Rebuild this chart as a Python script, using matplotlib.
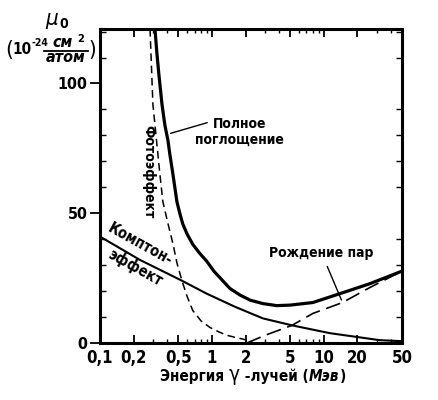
import matplotlib
matplotlib.use('Agg')
import matplotlib.pyplot as plt
from matplotlib import font_manager
from matplotlib.lines import Line2D
from matplotlib.ticker import FixedLocator, MultipleLocator, LogLocator, NullFormatter

# values (energy in MeV, mu in 1e-24 cm^2/atom)
total_e = [0.31, 0.322, 0.335, 0.358, 0.38, 0.405, 0.42, 0.45, 0.487, 0.52, 0.55, 0.6,
           0.675, 0.78, 0.9, 1.05, 1.25, 1.45, 1.78, 2.2, 2.85, 3.8, 5.0, 8.0, 13.9,
           25.6, 50]
total_mu = [121, 112, 104, 92, 84, 78, 73, 64.6, 54.4, 49.5, 45.8, 42,
            38, 34.5, 31.5, 27.5, 24, 21, 18.5, 16.5, 15.2, 14.4, 14.6, 15.6, 19,
            22.8, 27.7]

photo_e = [0.28, 0.297, 0.32, 0.343, 0.365, 0.405, 0.45, 0.486, 0.54, 0.6, 0.675,
           0.8, 0.96, 1.15, 1.36, 1.6, 1.9, 2.3]
photo_mu = [121, 92, 78, 65, 54.4, 46, 38, 31, 24, 18, 12.5,
            8.5, 6, 4.3, 3, 2.2, 1.5, 0.3]

compton_e = [0.1, 0.228, 0.54, 0.9, 1.6, 2.85, 5.2, 11.3, 31.5, 50]
compton_mu = [41, 32, 24, 19, 14, 9.5, 6.8, 3.8, 1.1, 0.7]

pair_e = [2.05, 3.0, 5.2, 8.0, 14.7, 25.6, 50]
pair_mu = [0, 3, 6.8, 11.4, 15.6, 21.3, 27.7]

xticks = [0.1, 0.2, 0.5, 1, 2, 5, 10, 20, 50]
xticklabels = ['0,1', '0,2', '0,5', '1', '2', '5', '10', '20', '50']
yticks = [0, 50, 100]


# a narrow font that has Cyrillic letters, if any is installed
def has_cyr(path):
    try:
        return 0x042D in font_manager.get_font(path).get_charmap()
    except Exception:
        return False


fam, stretch = 'DejaVu Sans', 'normal'
found = [(f.name, f.stretch) for f in font_manager.fontManager.ttflist
         if ('Narrow' in f.name or 'Condensed' in f.name or 'condensed' in str(f.stretch))
         and has_cyr(f.fname)]
for want in ['Liberation Sans Narrow', 'DejaVu Sans', 'Roboto Condensed']:
    hit = [c for c in found if c[0] == want]
    if hit:
        fam, stretch = hit[0]
        break
else:
    if found:
        fam, stretch = found[0]

plt.rcParams['font.family'] = [fam, 'DejaVu Sans']
plt.rcParams['font.stretch'] = stretch

lab = dict(fontweight='bold', color='black')

W, H = 439, 400
fig = plt.figure(figsize=(W / 100, H / 100), dpi=100)
ax = fig.add_axes([100 / W, 1 - 343 / H, 302 / W, 314 / H])
rend = fig.canvas.get_renderer()


def px(x, y):
    return x / W, 1 - y / H


def chain(parts, x0, base, center=False):
    # lay text pieces one after another on a common baseline (pixels)
    texts = []
    for s, dy, kw in parts:
        t = fig.text(0, 0, s, ha='left', va='baseline', **kw)
        texts.append((t, dy, t.get_window_extent(rend).width))
    total = sum(w for _, _, w in texts)
    x = x0 - total / 2 if center else x0
    for t, dy, w in texts:
        t.set_position(px(x, base + dy))
        x += w


ax.plot(total_e, total_mu, color='black', lw=2.3)
ax.plot(photo_e, photo_mu, color='black', lw=1.1, dashes=(5, 3))
ax.plot(compton_e, compton_mu, color='black', lw=1.5)
ax.plot(pair_e, pair_mu, color='black', lw=1.2, dashes=(9, 4))

ax.set_xscale('log')
ax.set_xlim(0.1, 50)
ax.set_ylim(0, 121)

ax.xaxis.set_major_locator(FixedLocator(xticks))
ax.set_xticklabels(xticklabels, fontsize=12, **lab)
ax.xaxis.set_minor_locator(LogLocator(base=10, subs=range(2, 10)))
ax.xaxis.set_minor_formatter(NullFormatter())
ax.yaxis.set_major_locator(FixedLocator(yticks))
ax.set_yticklabels([str(v) for v in yticks], fontsize=11.5, **lab)
ax.yaxis.set_minor_locator(MultipleLocator(10))

ax.tick_params(axis='x', which='major', direction='in', length=6, width=1.3,
               top=True, pad=4)
ax.tick_params(axis='x', which='minor', direction='in', length=3, width=1.0, top=True)
ax.tick_params(axis='y', which='major', direction='out', length=7, width=1.3, pad=2)
ax.tick_params(axis='y', which='minor', direction='in', length=4, width=1.0, right=True)
for s in ax.spines.values():
    s.set_linewidth(2.2)

# x axis caption: γ drawn larger, unit in italics
big = dict(fontsize=11, **lab)
chain([('Энергия ', 0, big),
       ('γ', 0, dict(fontsize=15, color='black')),
       (' -лучей (', 0, big),
       ('Мэв', 0, dict(style='italic', **big)),
       (')', 0, big)], 253, 381, center=True)

# y axis caption
fig.text(*px(52, 25), 'μ', fontsize=16, ha='center', va='baseline', style='italic')
fig.text(*px(64, 28), '0', fontsize=10, ha='center', va='baseline', **lab)
chain([('(', 2, dict(fontsize=16, color='black')),
       ('10', 0, dict(fontsize=11, **lab)),
       ('-24', -8, dict(fontsize=7.5, **lab))], 5, 54)
fig.text(*px(63, 47), 'см', fontsize=11.5, ha='center', va='baseline', style='italic', **lab)
fig.text(*px(77, 42), '2', fontsize=8, ha='left', va='baseline', **lab)
fig.add_artist(Line2D([44 / W, 88 / W], [1 - 51 / H, 1 - 51 / H], color='black', lw=1.3))
fig.text(*px(66, 62), 'атом', fontsize=11.5, ha='center', va='baseline', style='italic', **lab)
fig.text(*px(92, 56), ')', fontsize=16, ha='center', va='baseline')

# curve labels
ax.text(1.78, 81.4, 'Полное\nпоглощение', fontsize=10, linespacing=1.15, ha='center',
        multialignment='center', va='center', **lab)
ax.annotate('', xy=(0.405, 80.5), xytext=(0.96, 85.2),
            arrowprops=dict(arrowstyle='-', color='black', lw=1.0))
ax.text(0.268, 66, 'Фотоэффект', fontsize=10, rotation=-90, ha='center', va='center', **lab)
ax.text(0.228, 38, 'Комптон-', fontsize=10.5, rotation=-29, ha='center', va='center', **lab)
ax.text(0.205, 29, 'эффект', fontsize=10.5, rotation=-29, ha='center', va='center', **lab)
ax.text(9.57, 34.6, 'Рождение пар', fontsize=10, ha='center', va='center', **lab)
ax.annotate('', xy=(14.7, 15.6), xytext=(10.5, 30.5),
            arrowprops=dict(arrowstyle='-', color='black', lw=1.0))

fig.savefig('out.png', dpi=100)
